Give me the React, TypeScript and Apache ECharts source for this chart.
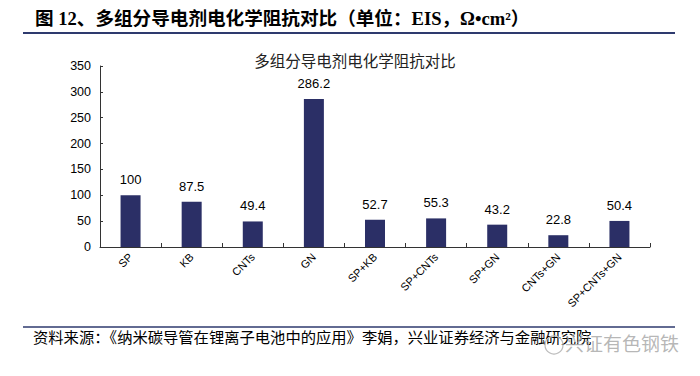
import React, { useEffect, useRef } from "react";
import * as echarts from "echarts";

const categories = ["SP", "KB", "CNTs", "GN", "SP+KB", "SP+CNTs", "SP+GN", "CNTs+GN", "SP+CNTs+GN"];
const values = [100, 87.5, 49.4, 286.2, 52.7, 55.3, 43.2, 22.8, 50.4];
const yTicks = { min: 0, max: 350, interval: 50 };

const figureTitle = "图 12、多组分导电剂电化学阻抗对比（单位：EIS，Ω•cm²）";
const chartTitle = "多组分导电剂电化学阻抗对比";
const sourceText = "资料来源：《纳米碳导管在锂离子电池中的应用》李娟，兴业证券经济与金融研究院";
const watermark = "兴证有色钢铁";

export default function App() {
  const ref = useRef<HTMLDivElement>(null);
  useEffect(() => {
    if (!ref.current) return;
    const chart = echarts.init(ref.current, null, { renderer: "svg" });
    const navy = "#2b2f66";
    chart.setOption({
      animation: false,
      backgroundColor: "#ffffff",
      title: {
        text: chartTitle,
        left: 350,
        textAlign: "center",
        top: 47,
        textStyle: { fontSize: 15.5, fontWeight: "normal", color: "#222", fontFamily: "Noto Sans CJK SC" },
      },
      grid: { left: 100, right: 50, top: 66, bottom: 129 },
      xAxis: {
        type: "category",
        data: categories,
        axisLine: { show: true, lineStyle: { color: "#333", width: 1 } },
        axisTick: { show: true, inside: true, length: 4, alignWithLabel: false, lineStyle: { color: "#333" } },
        axisLabel: {
          rotate: 45,
          interval: 0,
          color: "#000",
          fontSize: 11,
          fontFamily: "Liberation Sans",
          margin: 8,
        },
      },
      yAxis: {
        type: "value",
        min: yTicks.min,
        max: yTicks.max,
        interval: yTicks.interval,
        axisLine: { show: true, lineStyle: { color: "#333", width: 1 } },
        axisTick: { show: true, inside: true, length: 3, lineStyle: { color: "#333" } },
        splitLine: { show: false },
        axisLabel: { color: "#000", fontSize: 12.5, fontFamily: "Liberation Sans", margin: 9 },
      },
      series: [
        {
          type: "bar",
          data: values,
          barWidth: 20,
          itemStyle: { color: navy },
          label: {
            show: true,
            position: "top",
            distance: 9,
            color: "#000",
            fontSize: 13,
            fontFamily: "Liberation Sans",
          },
        },
      ],
      graphic: [
        {
          type: "text",
          left: 35,
          top: 9,
          style: {
            text: figureTitle,
            fontSize: 18.6,
            fontWeight: "bold",
            fontFamily: "Liberation Serif, Noto Sans CJK SC",
            fill: "#000",
          },
        },
        {
          type: "line",
          shape: { x1: 23, y1: 33, x2: 675, y2: 33 },
          style: { stroke: "#2e3a6e", lineWidth: 2 },
        },
        {
          type: "line",
          shape: { x1: 23, y1: 327, x2: 675, y2: 327 },
          style: { stroke: "#2e3a6e", lineWidth: 1.5 },
        },
        {
          type: "text",
          left: 33,
          top: 328,
          style: {
            text: sourceText,
            fontSize: 15.3,
            fontFamily: "Noto Sans CJK SC",
            fill: "#000",
          },
        },
        {
          type: "circle",
          shape: { cx: 554, cy: 345, r: 9 },
          style: { fill: "none", stroke: "#bbbbbb", lineWidth: 1.2 },
        },
        {
          type: "text",
          left: 565,
          top: 333,
          style: {
            text: watermark,
            fontSize: 19,
            fontFamily: "Noto Sans CJK SC",
            fill: "rgba(170,170,170,0.85)",
          },
        },
      ],
    });
    return () => chart.dispose();
  }, []);
  return (
    <div
      ref={ref}
      style={{ position: "absolute", left: 0, top: 0, width: 700, height: 376 }}
    />
  );
}
